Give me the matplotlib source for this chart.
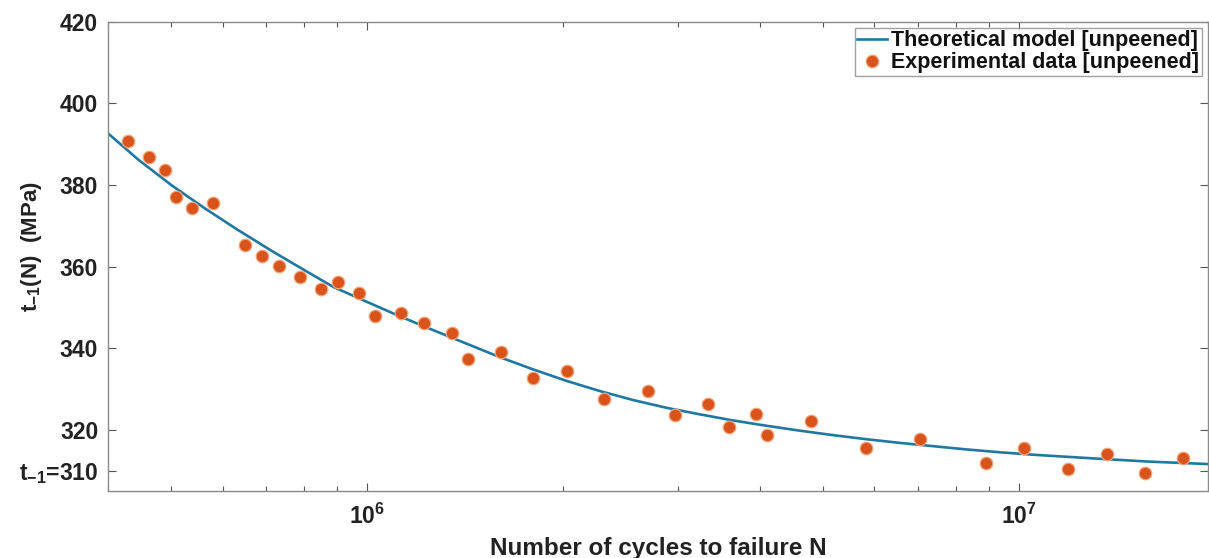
import matplotlib
matplotlib.use("Agg")
from matplotlib import pyplot as plt
from matplotlib.ticker import FixedLocator, FixedFormatter, LogLocator, NullFormatter

plt.rcParams['font.family'] = ['Liberation Sans', 'DejaVu Sans']
plt.rcParams['font.weight'] = 'bold'
plt.rcParams['mathtext.fontset'] = 'custom'
plt.rcParams['mathtext.bf'] = 'Liberation Sans:bold'
plt.rcParams['mathtext.rm'] = 'Liberation Sans:bold'
plt.rcParams['mathtext.it'] = 'Liberation Sans:bold'
plt.rcParams['mathtext.default'] = 'bf'

# theoretical S-N curve (cycles, MPa)
model_n = [4.01e5, 4.46e5, 5.02e5, 5.64e5, 6.34e5, 7.14e5, 8.03e5, 8.87e5,
           1.0e6, 1.122e6, 1.263e6, 1.42e6, 1.597e6, 1.796e6, 2.02e6, 2.273e6,
           2.556e6, 2.875e6, 3.233e6, 3.636e6, 4.091e6, 4.601e6, 5.176e6,
           5.823e6, 6.55e6, 7.366e6, 8.286e6, 9.32e6, 1.048e7, 1.179e7,
           1.327e7, 1.582e7, 1.949e7]
model_tau = [392.5, 386.1, 379.8, 374.2, 368.9, 363.8, 359.0, 355.0,
             351.3, 347.8, 344.4, 341.1, 337.8, 334.8, 332.0, 329.5,
             327.3, 325.4, 323.8, 322.3, 321.0, 319.8, 318.7,
             317.7, 316.8, 316.0, 315.2, 314.5, 313.9, 313.4,
             312.9, 312.2, 311.6]

# measured fatigue results
exp_n = [4.29e5, 4.63e5, 4.89e5, 5.09e5, 5.39e5, 5.80e5, 6.49e5, 6.90e5,
         7.31e5, 7.89e5, 8.48e5, 9.02e5, 9.72e5, 1.029e6, 1.126e6, 1.221e6,
         1.348e6, 1.427e6, 1.603e6, 1.795e6, 2.023e6, 2.306e6, 2.692e6,
         2.961e6, 3.327e6, 3.595e6, 3.954e6, 4.111e6, 4.80e6, 5.83e6,
         7.05e6, 8.90e6, 1.018e7, 1.189e7, 1.364e7, 1.56e7, 1.783e7]
exp_tau = [390.8, 386.9, 383.6, 377.1, 374.4, 375.5, 365.3, 362.6,
           360.2, 357.5, 354.5, 356.2, 353.5, 347.9, 348.7, 346.2,
           343.8, 337.4, 339.1, 332.7, 334.5, 327.6, 329.6,
           323.7, 326.4, 320.7, 323.9, 318.8, 322.1, 315.6,
           317.8, 311.9, 315.6, 310.45, 314.1, 309.5, 313.1]

y_ticks = [310, 320, 340, 360, 380, 400, 420]
y_labels = [r'$t_{-1}$=310', '320', '340', '360', '380', '400', '420']
x_ticks = [1e6, 1e7]
x_labels = [r'$10^{6}$', r'$10^{7}$']

fig = plt.figure(figsize=(12.09, 5.58), dpi=100)
ax = fig.add_axes([0.0893, 0.1201, 0.9099, 0.8410])

ax.plot(model_n, model_tau, color='#1f78a4', lw=1.9,
        label='Theoretical model [unpeened]', zorder=2)
ax.plot(exp_n, exp_tau, ls='none', marker='o', ms=9, mfc='#d9531c',
        mec='#f2a47a', mew=0.9, label='Experimental data [unpeened]', zorder=3)

ax.set_xscale('log')
ax.set_xlim(4e5, 1.95e7)
ax.set_ylim(305, 420)

ax.xaxis.set_major_locator(FixedLocator(x_ticks))
ax.xaxis.set_major_formatter(FixedFormatter(x_labels))
ax.xaxis.set_minor_locator(LogLocator(base=10, subs=range(2, 10), numticks=20))
ax.xaxis.set_minor_formatter(NullFormatter())
ax.yaxis.set_major_locator(FixedLocator(y_ticks))
ax.yaxis.set_major_formatter(FixedFormatter(y_labels))

ax.tick_params(which='both', direction='in', top=True, right=True,
               color='#555555', labelcolor='#222222', labelsize=16.5)
ax.tick_params(which='major', length=6, width=0.8)
ax.tick_params(which='minor', length=3.5, width=0.8)
ax.tick_params(axis='x', pad=9)
ax.tick_params(axis='y', pad=7)
for sp in ax.spines.values():
    sp.set_color('#8a8a8a')
    sp.set_linewidth(1.0)

ax.set_xlabel('Number of cycles to failure N', fontsize=17.5, color='#222222',
              fontweight='bold')
ax.xaxis.set_label_coords(0.5, -0.097)
ax.set_ylabel(r'$t_{-1}$(N)  (MPa)', fontsize=16, color='#222222',
              fontweight='bold')
ax.yaxis.set_label_coords(-0.058, 0.52)

leg = ax.legend(loc='upper right', fontsize=15.5, frameon=True, fancybox=False,
                edgecolor='#8a8a8a', borderaxespad=0.3, handlelength=1.4,
                handletextpad=0.2, borderpad=0.1, labelspacing=0.05)
leg.get_frame().set_linewidth(1.0)
for t in leg.get_texts():
    t.set_color('#111111')

fig.savefig('out.png', dpi=100)
